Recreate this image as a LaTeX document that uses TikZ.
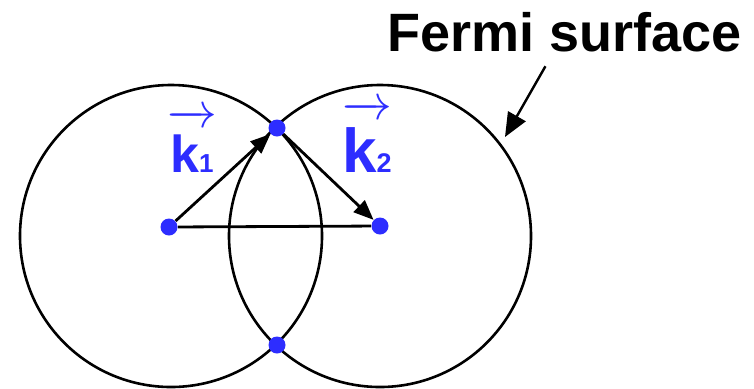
\documentclass[tikz,border=0pt]{standalone}
\usepackage{fontspec}
\setmainfont{Liberation Sans}
\usetikzlibrary{arrows.meta}
\definecolor{kblue}{RGB}{45,45,255}
\begin{document}
\begin{tikzpicture}[x=0.5pt, y=-0.5pt,
  fermi/.style={draw, circle, line width=1.3pt, minimum size=151pt, inner sep=0pt},
  kdot/.style={circle, fill=kblue, minimum size=8.5pt, inner sep=0pt},
  kvec/.style={line width=1.4pt, -{Triangle[length=10pt,width=8pt]}},
  klabel/.style={text=kblue, anchor=base}]
\useasboundingbox (0,0) rectangle (754,388);
\node[fermi] (fsL) at (171,236) {};
\node[fermi] (fsR) at (380,236) {};
\node[kdot] (o1) at (169,227) {};
\node[kdot] (o2) at (380,226) {};
\node[kdot] (top) at (277,128) {};
\node[kdot] (bot) at (277,345) {};
\draw[line width=1.4pt] (o1) -- (o2);
\draw[kvec] (o1) -- (top);
\draw[kvec] (top) -- (o2);
\node[klabel, font=\bfseries\fontsize{26}{26}\selectfont] (k1) at (192,172)
  {$\overrightarrow{\mbox{\rule{0pt}{0.9em}k\fontsize{13}{13}\selectfont 1}}$};
\node[klabel, font=\bfseries\fontsize{31}{31}\selectfont] (k2) at (367,172)
  {$\overrightarrow{\mbox{\rule{0pt}{0.88em}k\fontsize{13.5}{13.5}\selectfont 2}}$};
\node[font=\bfseries\fontsize{27}{27}\selectfont, inner ysep=7pt] (fermi) at (565,32) {Fermi surface};
\coordinate (tip) at (505,137);
\draw[line width=1.2pt, -{Triangle[length=12pt,width=10pt]}] (fermi) -- (tip);
\end{tikzpicture}
\end{document}
